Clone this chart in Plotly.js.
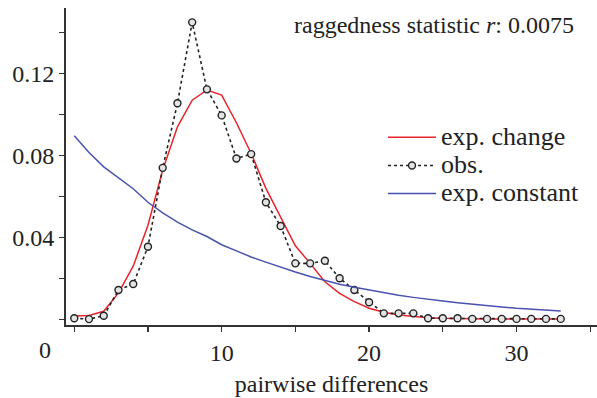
<!DOCTYPE html>
<html>
<head>
<meta charset="utf-8">
<script src="https://cdn.plot.ly/plotly-3.0.1.min.js"></script>
<style>html,body{margin:0;padding:0;background:#fff;}#chart{width:597px;height:398px;}</style>
</head>
<body>
<div id="chart"></div>
<script>
// pairwise differences
const diffs = [0,1,2,3,4,5,6,7,8,9,10,11,12,13,14,15,16,17,18,19,20,21,22,23,24,25,26,27,28,29,30,31,32,33];
// observed mismatch distribution
const observed = [0.0006,0.0002,0.0018,0.0144,0.0173,0.0355,0.074,0.1055,0.145,0.1123,0.0996,0.0786,0.0807,0.0572,0.0456,0.0274,0.0274,0.0287,0.0201,0.0144,0.0084,0.003,0.003,0.003,0.0006,0.0006,0.0006,0.0003,0.0003,0.0003,0.0003,0.0003,0.0003,0.0003];
// expected under population change
const expChange = [0.0017,0.002,0.004,0.013,0.026,0.046,0.073,0.094,0.107,0.112,0.1095,0.096,0.081,0.064,0.05,0.036,0.0274,0.0184,0.0128,0.0087,0.0055,0.0035,0.0022,0.0014,0.0009,0.0006,0.0004,0.0003,0.0002,0.0002,0.0002,0.0002,0.0002,0.0002];
// expected under constant population size
const expConstant = [0.0897,0.0815,0.0745,0.069,0.0638,0.0572,0.052,0.0475,0.0437,0.0405,0.0365,0.0335,0.0305,0.028,0.0255,0.0232,0.021,0.019,0.0172,0.0157,0.0143,0.013,0.0118,0.0108,0.0098,0.009,0.0082,0.0074,0.0067,0.0061,0.0055,0.005,0.0046,0.0042];
const seriesNames = ['exp. change', 'obs.', 'exp. constant'];

const xTickVals = [0,5,10,15,20,25,30,35];
const xTickText = ['','','10','','20','','30',''];
const yTickVals = [0,0.02,0.04,0.06,0.08,0.10,0.12,0.14];
const yTickText = ['','','0.04','','0.08','','0.12',''];

const font = {family: 'Liberation Serif', size: 24, color: '#222'};
const big = s => '<span style="font-size:26px">' + s + '</span>';

const traces = [
  {x: diffs, y: expChange, type: 'scatter', mode: 'lines', name: big(seriesNames[0]),
   line: {color: '#e8242a', width: 1.5}},
  {x: diffs, y: observed, type: 'scatter', mode: 'lines+markers', name: big(seriesNames[1]),
   line: {color: '#222', width: 1.6, dash: '3px,3px'},
   marker: {symbol: 'circle', size: 7, color: '#e4e4e4', line: {color: '#222', width: 1.4}}},
  {x: diffs, y: expConstant, type: 'scatter', mode: 'lines', name: big(seriesNames[2]),
   line: {color: '#4a52b0', width: 1.5}}
];

const layout = {
  width: 597, height: 398,
  margin: {l: 66, r: 0, t: 8, b: 73},
  paper_bgcolor: '#fff', plot_bgcolor: '#fff',
  font: font,
  showlegend: true,
  legend: {x: 0.597, y: 0.652, xanchor: 'left', yanchor: 'top', bgcolor: 'rgba(0,0,0,0)',
           font: {family: 'Liberation Serif', size: 19.3, color: '#222'}, itemwidth: 48, tracegroupgap: 0},
  xaxis: {range: [-0.56, 35.46], tickmode: 'array', tickvals: xTickVals, ticktext: xTickText,
          ticks: 'outside', ticklen: 5, tickwidth: 1.2, tickcolor: '#333',
          showline: true, linecolor: '#333', linewidth: 2, showgrid: false, zeroline: false,
          title: {text: 'pairwise differences', font: font, standoff: 10}},
  yaxis: {range: [-0.00268, 0.152], tickmode: 'array', tickvals: yTickVals, ticktext: yTickText,
          ticks: 'outside', ticklen: 5, tickwidth: 1.2, tickcolor: '#333',
          showline: true, linecolor: '#333', linewidth: 2, showgrid: false, zeroline: false},
  annotations: [
    {xref: 'paper', yref: 'paper', x: 0.96, y: 0.995, xanchor: 'right', yanchor: 'top', showarrow: false,
     text: 'raggedness statistic <i>r</i>: 0.0075', font: font},
    {xref: 'paper', yref: 'paper', x: -0.0395, y: -0.079, xanchor: 'center', yanchor: 'middle', showarrow: false,
     text: '0', font: font}
  ]
};

Plotly.newPlot('chart', traces, layout, {displayModeBar: false, staticPlot: true});
</script>
</body>
</html>
